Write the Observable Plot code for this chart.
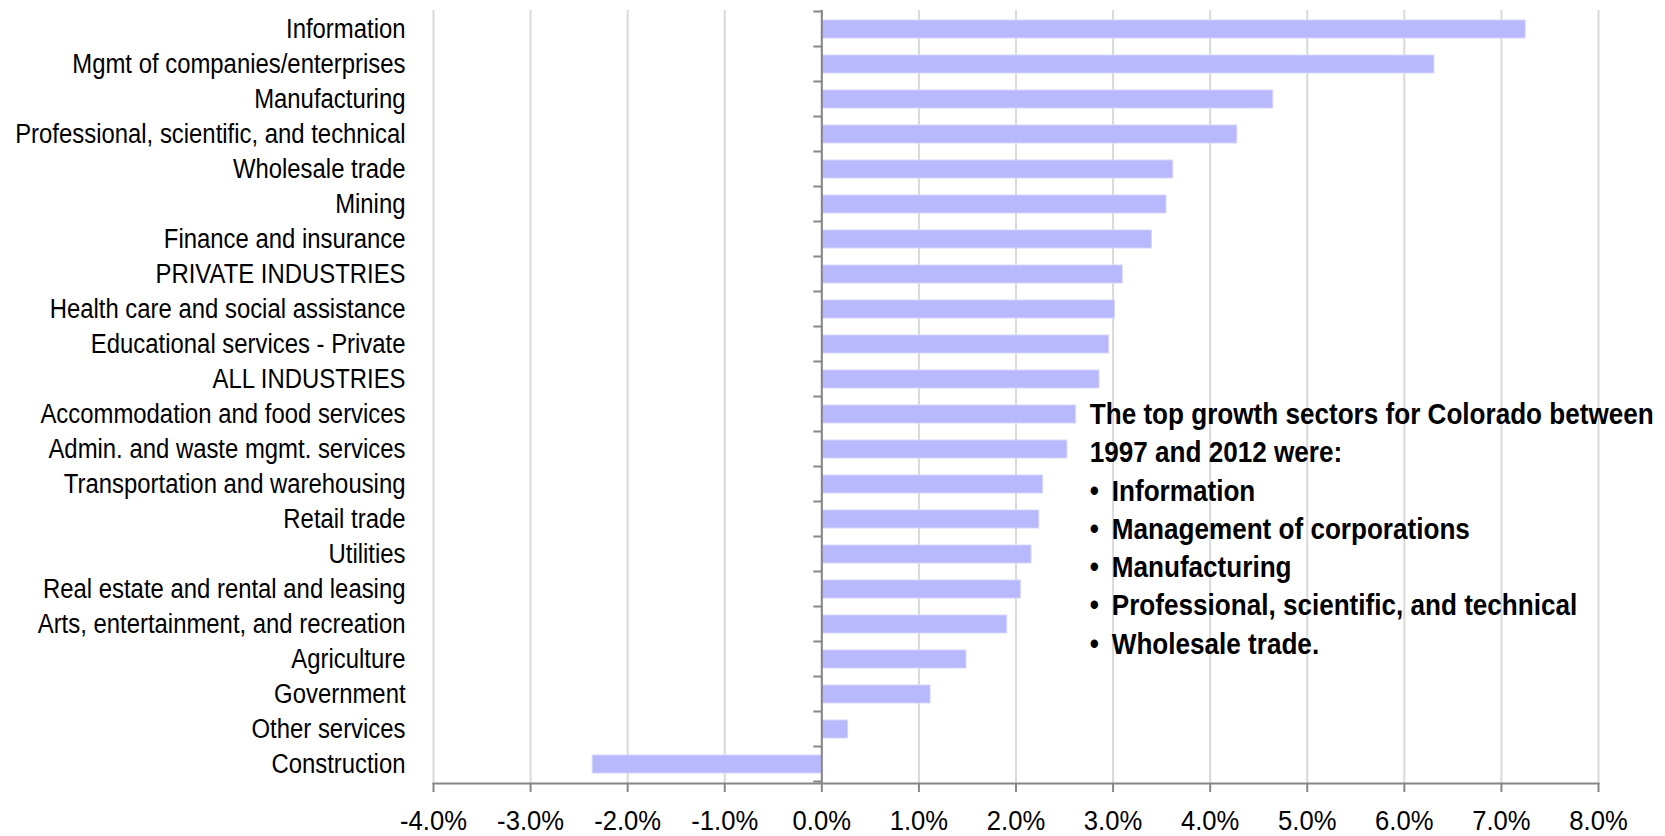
<!DOCTYPE html>
<html><head><meta charset="utf-8">
<script src="https://cdn.jsdelivr.net/npm/d3@7"></script>
<script src="https://cdn.jsdelivr.net/npm/@observablehq/plot@0.6"></script>
<style>
html,body{margin:0;padding:0;background:#fff;}
</style></head><body><div id="chart"></div>
<script>
const sectors = [
  "Information",
  "Mgmt of companies/enterprises",
  "Manufacturing",
  "Professional, scientific, and technical",
  "Wholesale trade",
  "Mining",
  "Finance and insurance",
  "PRIVATE INDUSTRIES",
  "Health care and social assistance",
  "Educational services - Private",
  "ALL INDUSTRIES",
  "Accommodation and food services",
  "Admin. and waste mgmt. services",
  "Transportation and warehousing",
  "Retail trade",
  "Utilities",
  "Real estate and rental and leasing",
  "Arts, entertainment, and recreation",
  "Agriculture",
  "Government",
  "Other services",
  "Construction"
];
const growth = [7.25, 6.31, 4.65, 4.28, 3.62, 3.55, 3.40, 3.10, 3.02, 2.96, 2.86, 2.62, 2.53, 2.28, 2.24, 2.16, 2.05, 1.91, 1.49, 1.12, 0.27, -2.36];
const xTicks = [-4, -3, -2, -1, 0, 1, 2, 3, 4, 5, 6, 7, 8];
const noteHead = ["The top growth sectors for Colorado between", "1997 and 2012 were:"];
const noteItems = ["Information", "Management of corporations", "Manufacturing", "Professional, scientific, and technical", "Wholesale trade."];

// Arial-metric font, horizontally condensed to imitate Arial Narrow
const FONT = "'Liberation Sans',Arimo,Arial,sans-serif";
const NARROW = {"x-axis tick label": 0.95, "y-axis tick label": 0.885, "text": 0.87};
const data = sectors.map((s, i) => ({sector: s, growth: growth[i]}));

function bandBoundaryTicks(index, scales) {
  const {x, y} = scales;
  const g = d3.create("svg:g");
  const step = y.step(), off = (step - y.bandwidth()) / 2;
  const ys = sectors.map(s => y(s) - off);
  ys.push(ys[ys.length - 1] + step);
  g.selectAll("line").data(ys).join("line")
    .attr("x1", x(0) - 8).attr("x2", x(0))
    .attr("y1", d => d).attr("y2", d => d)
    .attr("stroke", "#868686").attr("stroke-width", 2);
  return g.node();
}

const col1 = noteHead.concat(noteItems.map(() => "•")).join("\n");
const col2 = noteHead.map(() => "").concat(noteItems).join("\n");
const noteOpts = {x: () => 2.76, y: () => "Accommodation and food services", text: d => d, textAnchor: "start", lineAnchor: "top", lineHeight: 1.275, dy: -17.5, fontSize: 30, fontWeight: "bold", fill: "#000"};

const chart = Plot.plot({
  width: 1665,
  height: 836,
  marginTop: 10,
  marginBottom: 53,
  marginLeft: 433,
  marginRight: 67,
  style: {fontFamily: FONT, fontSize: "27px", color: "#000", background: "#fff"},
  x: {domain: [-4, 8]},
  y: {domain: sectors, paddingInner: 0.5, paddingOuter: 0.25},
  marks: [
    Plot.gridX(xTicks, {stroke: "#d9d9d9", strokeOpacity: 1, strokeWidth: 2}),
    Plot.barX(data, {x: "growth", y: "sector", fill: "#b8b8fc", stroke: "#d6d6fd", strokeWidth: 1}),
    Plot.ruleX([0], {stroke: "#868686", strokeWidth: 2}),
    Plot.frame({anchor: "bottom", stroke: "#868686", strokeWidth: 2}),
    bandBoundaryTicks,
    Plot.axisX({ticks: xTicks, tickSize: 9, tickPadding: 18, stroke: "#868686", strokeWidth: 2, fill: "#000", fontSize: 27, label: null, tickFormat: d => d.toFixed(1) + "%"}),
    Plot.axisY({tickSize: 0, tickPadding: 28, fill: "#000", fontSize: 27, label: null}),
    Plot.text([col1], noteOpts),
    Plot.text([col2], {...noteOpts, dx: 22})
  ]
});
document.getElementById("chart").appendChild(chart);

// condense each text horizontally around its anchor point
chart.querySelectorAll("text").forEach(t => {
  const b = t.getBBox();
  if (!b.width) return;
  const grp = t.closest("g[aria-label]");
  const s = NARROW[grp ? grp.getAttribute("aria-label") : "text"] || 0.87;
  const anchor = getComputedStyle(t).textAnchor;
  const ax = anchor === "end" ? b.x + b.width : anchor === "middle" ? b.x + b.width / 2 : b.x;
  const prev = t.getAttribute("transform") || "";
  t.setAttribute("transform", `${prev} translate(${ax},0) scale(${s},1) translate(${-ax},0)`.trim());
});
</script>
</body></html>
